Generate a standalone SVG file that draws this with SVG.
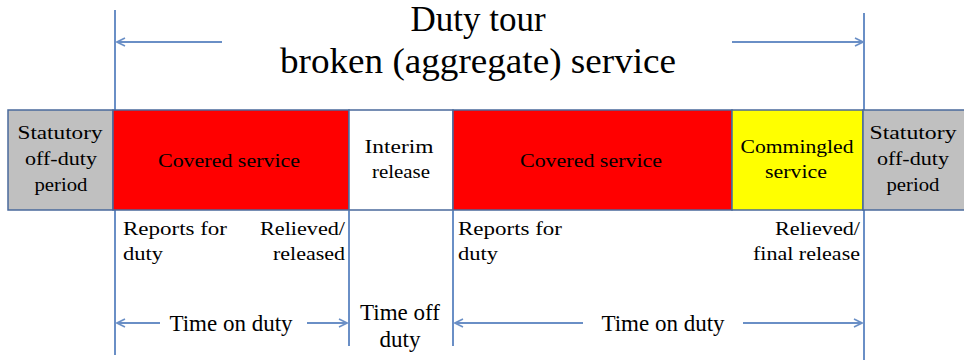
<svg xmlns="http://www.w3.org/2000/svg" width="964" height="360" viewBox="0 0 964 360">
<style>
.box{stroke:#4a6a9c;stroke-width:1.5}
.lbl{font-family:"Liberation Serif","Times New Roman",serif;font-size:19px;fill:#000;text-anchor:middle}
.sm{font-family:"Liberation Serif","Times New Roman",serif;font-size:19px;fill:#000}
.big{font-family:"Liberation Serif","Times New Roman",serif;fill:#000;text-anchor:middle}
.ln{stroke:#6a8fc6;stroke-width:2;fill:none}
</style>
<defs>
<marker id="ah" viewBox="0 0 10 10" refX="9" refY="5" markerWidth="5" markerHeight="5" orient="auto-start-reverse" markerUnits="strokeWidth">
<path d="M1,1 L9,5 L1,9" fill="none" stroke="#6a8fc6" stroke-width="1.6"/>
</marker>
</defs>
<rect width="964" height="360" fill="#fff"/>
<g id="title">
<text class="big" x="478" y="31" font-size="35">Duty tour</text>
<text class="big" x="478" y="73" font-size="35" textLength="396" lengthAdjust="spacingAndGlyphs">broken (aggregate)  service</text>
</g>
<g id="connectors">
<line class="ln" x1="115" y1="10" x2="115" y2="355"/>
<line class="ln" x1="864" y1="13" x2="864" y2="360"/>
<line class="ln" x1="349" y1="211" x2="349" y2="346"/>
<line class="ln" x1="453" y1="211" x2="453" y2="346"/>
<line class="ln" x1="222" y1="42" x2="117" y2="42" marker-end="url(#ah)"/>
<line class="ln" x1="732" y1="42" x2="863" y2="42" marker-end="url(#ah)"/>
<line class="ln" x1="160" y1="323" x2="117" y2="323" marker-end="url(#ah)"/>
<line class="ln" x1="307" y1="323" x2="347" y2="323" marker-end="url(#ah)"/>
<line class="ln" x1="583" y1="323" x2="455" y2="323" marker-end="url(#ah)"/>
<line class="ln" x1="743" y1="323" x2="862" y2="323" marker-end="url(#ah)"/>
</g>
<g id="n-stat-left">
<rect class="box" x="8" y="110" width="105" height="100" fill="#c0c0c0"/>
<text class="lbl" x="60" y="139" textLength="85" lengthAdjust="spacingAndGlyphs">Statutory</text>
<text class="lbl" x="61" y="165" textLength="72" lengthAdjust="spacingAndGlyphs">off-duty</text>
<text class="lbl" x="61" y="191" textLength="53" lengthAdjust="spacingAndGlyphs">period</text>
</g>
<g id="n-covered1">
<rect class="box" x="113" y="110" width="236" height="100" fill="#ff0000"/>
<text class="lbl" x="229" y="167" textLength="142" lengthAdjust="spacingAndGlyphs">Covered service</text>
</g>
<g id="n-interim">
<rect class="box" x="349" y="110" width="104" height="100" fill="#fff"/>
<text class="lbl" x="399" y="153" textLength="69" lengthAdjust="spacingAndGlyphs">Interim</text>
<text class="lbl" x="401" y="178" textLength="58" lengthAdjust="spacingAndGlyphs">release</text>
</g>
<g id="n-covered2">
<rect class="box" x="453" y="110" width="279" height="100" fill="#ff0000"/>
<text class="lbl" x="591" y="167" textLength="142" lengthAdjust="spacingAndGlyphs">Covered service</text>
</g>
<g id="n-commingled">
<rect class="box" x="732" y="110" width="131" height="100" fill="#ffff00"/>
<text class="lbl" x="797" y="153" textLength="113" lengthAdjust="spacingAndGlyphs">Commingled</text>
<text class="lbl" x="796" y="178" textLength="62" lengthAdjust="spacingAndGlyphs">service</text>
</g>
<g id="n-stat-right">
<rect class="box" x="863" y="110" width="104" height="100" fill="#c0c0c0"/>
<text class="lbl" x="913" y="139" textLength="87" lengthAdjust="spacingAndGlyphs">Statutory</text>
<text class="lbl" x="913" y="165" textLength="72" lengthAdjust="spacingAndGlyphs">off-duty</text>
<text class="lbl" x="913" y="191" textLength="53" lengthAdjust="spacingAndGlyphs">period</text>
</g>
<g id="labels">
<text class="sm" x="123" y="235" textLength="104" lengthAdjust="spacingAndGlyphs">Reports for</text>
<text class="sm" x="123" y="260" textLength="40" lengthAdjust="spacingAndGlyphs">duty</text>
<text class="sm" x="260" y="235" textLength="85" lengthAdjust="spacingAndGlyphs">Relieved/</text>
<text class="sm" x="273" y="260" textLength="72" lengthAdjust="spacingAndGlyphs">released</text>
<text class="sm" x="458" y="235" textLength="104" lengthAdjust="spacingAndGlyphs">Reports for</text>
<text class="sm" x="458" y="260" textLength="40" lengthAdjust="spacingAndGlyphs">duty</text>
<text class="sm" x="775" y="235" textLength="85" lengthAdjust="spacingAndGlyphs">Relieved/</text>
<text class="sm" x="753" y="260" textLength="107" lengthAdjust="spacingAndGlyphs">final release</text>
<text class="big" x="231" y="331" font-size="23">Time on duty</text>
<text class="big" x="663" y="331" font-size="23">Time on duty</text>
<text class="big" x="400" y="320" font-size="23">Time off</text>
<text class="big" x="400" y="347" font-size="23">duty</text>
</g>
</svg>
